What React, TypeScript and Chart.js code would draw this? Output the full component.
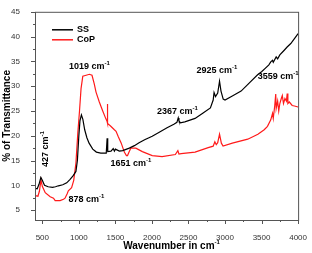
import React, { useEffect, useRef } from "react";
import { Chart, registerables } from "chart.js";

Chart.register(...registerables);

const ssWavenumbers = [400, 430, 455, 480, 500, 530, 580, 640, 680, 720, 780, 834, 880, 920, 960, 980, 1000, 1015, 1035, 1055, 1080, 1110, 1140, 1190, 1240, 1300, 1375, 1387, 1395, 1440, 1470, 1486, 1500, 1554, 1600, 1690, 1760, 1824, 1900, 2004, 2100, 2207, 2300, 2342, 2360, 2370, 2390, 2450, 2590, 2700, 2800, 2838, 2850, 2870, 2900, 2925, 2945, 2975, 3000, 3100, 3220, 3330, 3446, 3500, 3550, 3600, 3626, 3650, 3660, 3700, 3720, 3750, 3807, 3850, 3900, 3950, 4000];
const ssValues = [9.4, 9.3, 10.2, 11.6, 11.0, 10.0, 9.7, 9.6, 9.7, 9.9, 10.1, 10.5, 11.2, 11.9, 12.8, 15, 20, 23, 24.2, 23.3, 21.2, 19.6, 18.5, 17.3, 16.7, 16.5, 16.5, 19.5, 16.8, 16.9, 17.4, 16.9, 17.3, 16.9, 17.0, 17.5, 18.0, 18.6, 19.2, 19.9, 20.7, 21.6, 22.3, 22.7, 23.6, 23.0, 22.6, 22.8, 23.5, 24.6, 25.6, 27.2, 28.7, 27.9, 28.6, 31.0, 29.0, 27.4, 27.2, 28.0, 29.0, 30.6, 32.3, 32.9, 33.6, 34.3, 34.9, 35.2, 34.8, 35.9, 35.5, 36.3, 37.2, 37.9, 38.6, 39.6, 40.6];

const copWavenumbers = [400, 440, 460, 482, 500, 540, 608, 653, 676, 743, 790, 811, 840, 856, 901, 930, 960, 986, 1009, 1030, 1054, 1100, 1144, 1180, 1210, 1235, 1280, 1324, 1370, 1386, 1390, 1395, 1437, 1486, 1509, 1540, 1580, 1622, 1651, 1666, 1690, 1712, 1780, 1869, 2004, 2139, 2320, 2355, 2370, 2400, 2590, 2770, 2838, 2861, 2880, 2900, 2925, 2950, 2973, 3100, 3311, 3450, 3536, 3581, 3626, 3650, 3660, 3680, 3694, 3700, 3720, 3735, 3750, 3770, 3784, 3800, 3820, 3840, 3851, 3860, 3880, 3919, 3950, 4000];
const copValues = [7.9, 7.8, 8.8, 11.1, 9.8, 8.5, 7.7, 7.4, 6.9, 6.9, 7.2, 7.4, 8.3, 8.9, 9.5, 11, 14.5, 20.6, 25, 29.5, 32, 32.2, 32.4, 32.2, 30.5, 28.8, 26.8, 25.1, 23.4, 22.9, 26.4, 22.5, 21.9, 21.2, 20.9, 19.8, 18.5, 16.7, 16.0, 16.0, 16.8, 17.5, 17.5, 16.8, 16.0, 15.8, 16.2, 17.0, 16.3, 16.4, 16.7, 17.6, 17.9, 18.8, 18.2, 18.6, 20.3, 18.5, 17.9, 18.5, 19.3, 20.3, 21.2, 21.9, 23.2, 24.5, 23.5, 26, 28.4, 25.5, 27, 25, 26.5, 27.5, 28.1, 26.5, 27.5, 27.0, 28.5, 26.5, 26.8, 26.1, 26.0, 25.8];

const xTicks = [500, 1000, 1500, 2000, 2500, 3000, 3500, 4000];
const yTicks = [5, 10, 15, 20, 25, 30, 35, 40, 45];
const xMinorTicks = [750, 1250, 1750, 2250, 2750, 3250, 3750];
const yMinorTicks = [7.5, 12.5, 17.5, 22.5, 27.5, 32.5, 37.5, 42.5];

// peak annotations: label, anchor (wavenumber, % value), rotation
const peakLabels = ["1019", "427", "878", "1651", "2367", "2925", "3559"];
const peakX = [1144, 549, 1104, 1712, 2348, 2890, 3728];
const peakY = [34.0, 17.3, 7.1, 14.3, 24.9, 33.1, 31.9];
const peakRotated = [false, true, false, false, false, false, false];

const seriesNames = ["SS", "CoP"];
const seriesColors = ["#000000", "#ff1a1a"];

const FONT = "'Liberation Sans', Arial, sans-serif";

function drawCm(ctx: CanvasRenderingContext2D, text: string, x: number, y: number, size: number, align: "center" | "left") {
  ctx.font = `bold ${size}px ${FONT}`;
  const main = text + " cm";
  const wMain = ctx.measureText(main).width;
  ctx.font = `bold ${Math.round(size * 0.62)}px ${FONT}`;
  const wSup = ctx.measureText("-1").width;
  const total = wMain + wSup;
  const startX = align === "center" ? x - total / 2 : x;
  ctx.textAlign = "left";
  ctx.textBaseline = "middle";
  ctx.font = `bold ${size}px ${FONT}`;
  ctx.fillText(main, startX, y);
  ctx.font = `bold ${Math.round(size * 0.62)}px ${FONT}`;
  ctx.fillText("-1", startX + wMain, y - size * 0.35);
}

const decorPlugin = {
  id: "decor",
  afterDraw(chart: any) {
    const ctx: CanvasRenderingContext2D = chart.ctx;
    const { left, right, top, bottom } = chart.chartArea;
    const xs = chart.scales.x;
    const ys = chart.scales.y;
    ctx.save();
    ctx.strokeStyle = "#555";
    ctx.lineWidth = 1;
    ctx.strokeRect(left + 0.5, top + 0.5, right - left, bottom - top);
    ctx.beginPath();
    xTicks.forEach((v) => {
      const p = Math.round(xs.getPixelForValue(v)) + 0.5;
      ctx.moveTo(p, bottom); ctx.lineTo(p, bottom + 4);
    });
    xMinorTicks.forEach((v) => {
      const p = Math.round(xs.getPixelForValue(v)) + 0.5;
      ctx.moveTo(p, bottom); ctx.lineTo(p, bottom + 2);
    });
    yTicks.forEach((v) => {
      const p = Math.round(ys.getPixelForValue(v)) + 0.5;
      ctx.moveTo(left, p); ctx.lineTo(left - 4, p);
    });
    yMinorTicks.forEach((v) => {
      const p = Math.round(ys.getPixelForValue(v)) + 0.5;
      ctx.moveTo(left, p); ctx.lineTo(left - 2, p);
    });
    ctx.stroke();

    // legend
    seriesNames.forEach((name, i) => {
      const y = top + 18 + i * 10;
      ctx.strokeStyle = seriesColors[i];
      ctx.lineWidth = 1.5;
      ctx.beginPath();
      ctx.moveTo(left + 17, y); ctx.lineTo(left + 38, y);
      ctx.stroke();
      ctx.fillStyle = "#000";
      ctx.font = `bold 9px ${FONT}`;
      ctx.textAlign = "left";
      ctx.textBaseline = "middle";
      ctx.fillText(name, left + 42, y);
    });

    // peak annotations
    ctx.fillStyle = "#000";
    peakLabels.forEach((lab, i) => {
      const px = xs.getPixelForValue(peakX[i]);
      const py = ys.getPixelForValue(peakY[i]);
      if (peakRotated[i]) {
        ctx.save();
        ctx.translate(px, py);
        ctx.rotate(-Math.PI / 2);
        drawCm(ctx, lab, 0, 0, 9, "center");
        ctx.restore();
      } else {
        drawCm(ctx, lab, px, py, 9, "center");
      }
    });

    // axis titles
    ctx.save();
    ctx.translate(7, (top + bottom) / 2);
    ctx.rotate(-Math.PI / 2);
    ctx.font = `bold 10px ${FONT}`;
    ctx.textAlign = "center";
    ctx.textBaseline = "middle";
    ctx.fillText("% of Transmittance", 0, 0);
    ctx.restore();

    ctx.font = `bold 10px ${FONT}`;
    ctx.textBaseline = "middle";
    ctx.textAlign = "left";
    const t = "Wavenumber in cm";
    const w = ctx.measureText(t).width;
    ctx.font = `bold 6px ${FONT}`;
    const ws = ctx.measureText("-1").width;
    const sx = (left + right) / 2 + 5 - (w + ws) / 2;
    ctx.font = `bold 10px ${FONT}`;
    ctx.fillText(t, sx, 246);
    ctx.font = `bold 6px ${FONT}`;
    ctx.fillText("-1", sx + w, 242);
    ctx.restore();
  },
};

export default function App() {
  const ref = useRef<HTMLCanvasElement>(null);
  useEffect(() => {
    if (!ref.current) return;
    const chart = new Chart(ref.current, {
      type: "line",
      data: {
        datasets: [
          {
            label: seriesNames[0],
            data: ssWavenumbers.map((x, i) => ({ x, y: ssValues[i] })),
            borderColor: seriesColors[0],
            borderWidth: 1.2,
            pointRadius: 0,
            tension: 0,
          },
          {
            label: seriesNames[1],
            data: copWavenumbers.map((x, i) => ({ x, y: copValues[i] })),
            borderColor: seriesColors[1],
            borderWidth: 1.2,
            pointRadius: 0,
            tension: 0,
          },
        ],
      },
      options: {
        animation: false,
        responsive: false,
        layout: { padding: { top: 5, right: 11, left: 0, bottom: 0 } },
        plugins: { legend: { display: false }, tooltip: { enabled: false } },
        scales: {
          x: {
            type: "linear",
            min: 400,
            max: 4000,
            grid: { display: false },
            border: { display: false },
            afterBuildTicks: (s: any) => { s.ticks = xTicks.map((v) => ({ value: v })); },
            afterFit: (s: any) => { s.height = 33; },
            ticks: { padding: 5, color: "#333", font: { size: 8, family: FONT }, maxRotation: 0, autoSkip: false, callback: (v: any) => String(v) },
          },
          y: {
            type: "linear",
            min: 3,
            max: 45,
            grid: { display: false },
            border: { display: false },
            afterBuildTicks: (s: any) => { s.ticks = yTicks.map((v) => ({ value: v })); },
            afterFit: (s: any) => { s.width = 35; },
            ticks: { padding: 7, color: "#333", font: { size: 8, family: FONT }, autoSkip: false, callback: (v: any) => String(v) },
          },
        },
      },
      plugins: [decorPlugin],
    } as any);
    return () => chart.destroy();
  }, []);
  return (
    <div style={{ position: "fixed", left: 0, top: 0, width: 312, height: 253, background: "#fff" }}>
      <canvas ref={ref} width={312} height={253} style={{ width: 312, height: 253 }} />
    </div>
  );
}
